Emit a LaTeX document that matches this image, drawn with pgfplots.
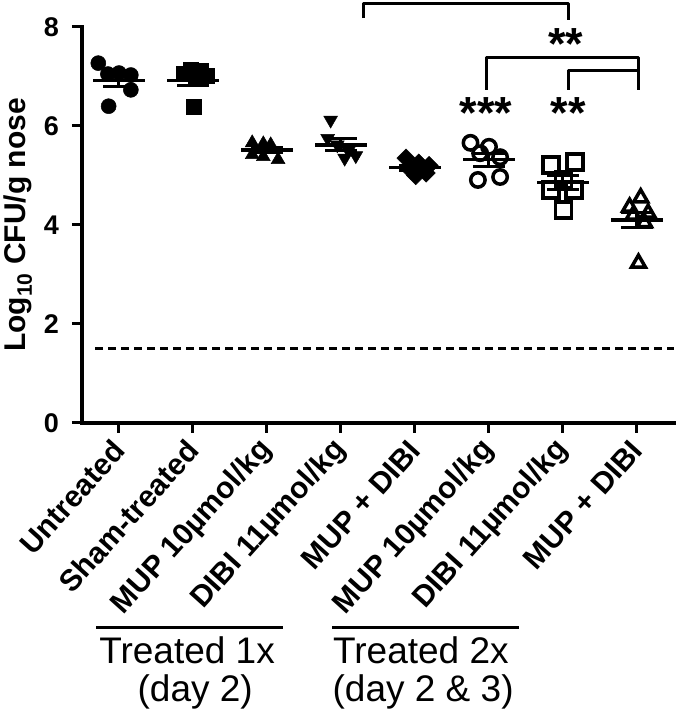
\documentclass[border=0pt]{standalone}
\usepackage{fontspec}
\setmainfont{Liberation Sans}
\usepackage{pgfplots}
\pgfplotsset{compat=1.18}

\newcommand{\starfont}{\fontsize{45}{45}\selectfont\bfseries}

\begin{document}
\begin{tikzpicture}
\path[use as bounding box] (0pt,0pt) rectangle (680pt,715pt);
\begin{axis}[
  at={(82pt,292pt)}, anchor=south west,
  scale only axis, width=592pt, height=396pt,
  xmin=0.5, xmax=8.5, ymin=0, ymax=8,
  clip=false,
  axis x line*=bottom, axis y line*=left,
  axis line style={line width=4pt, -, line cap=rect},
  tick align=outside, major tick length=10pt,
  tick style={line width=3pt, black},
  xtick={1,2,3,4,5,6,7,8},
  xticklabels={Untreated, Sham-treated, MUP 10µmol/kg, DIBI 11µmol/kg, MUP + DIBI,
    MUP 10µmol/kg, DIBI 11µmol/kg, MUP + DIBI},
  xticklabel style={rotate=48, anchor=east, inner sep=0pt,
    font=\fontsize{30}{30}\selectfont\bfseries},
  xticklabel shift=12pt,
  ytick={0,2,4,6,8},
  yticklabels={0,2,4,6,8},
  yticklabel style={anchor=east, inner sep=0pt,
    font=\fontsize{27}{27}\selectfont\bfseries},
  yticklabel shift=13pt,
  ylabel={Log\textsubscript{10} CFU/g nose},
  ylabel style={at={(axis description cs:-0.084,0.5)}, anchor=south, inner sep=0pt,
    font=\fontsize{30}{30}\selectfont\bfseries},
]
% detection limit
\addplot[line width=3pt, dash pattern=on 8pt off 5pt] coordinates {(0.68,1.5) (8.5,1.5)};

% treated 1x
\addplot[only marks, mark=*, mark size=7.5pt, mark options={line width=0.5pt, fill=black}]
  coordinates {(0.72,7.27) (0.85,7.05) (1.00,7.07) (1.16,7.03) (1.16,6.73) (0.86,6.40)};
\addplot[only marks, mark=square*, mark size=7.5pt, mark options={line width=0.5pt, fill=black}]
  coordinates {(1.88,7.05) (1.97,7.13) (2.11,7.11) (2.18,7.01) (2.04,6.95) (2.01,6.38)};
\addplot[only marks, mark=triangle*, mark size=8pt, mark options={line width=0.5pt, fill=black}]
  coordinates {(2.80,5.66) (2.95,5.64) (3.05,5.62) (2.80,5.42) (2.95,5.38) (3.15,5.32)};
\addplot[only marks, mark=triangle*, mark size=8pt, mark options={line width=0.5pt, fill=black, rotate=180}]
  coordinates {(3.86,6.12) (3.82,5.75) (3.95,5.62) (4.10,5.50) (4.20,5.40) (4.05,5.35)};
\addplot[only marks, mark=square*, mark size=6.5pt, mark options={line width=0.5pt, fill=black, rotate=45}]
  coordinates {(4.88,5.35) (5.05,5.25) (5.19,5.20) (4.95,5.10) (5.15,5.05) (5.01,5.00)};

% treated 2x
\addplot[only marks, mark=o, mark size=7.2pt, mark options={line width=3.5pt, fill=white}]
  coordinates {(5.75,5.66) (6.00,5.58) (5.88,5.45) (6.15,5.37) (5.85,4.91) (6.15,4.97)};
\addplot[only marks, mark=square, mark size=8pt, mark options={line width=3.5pt, fill=white}]
  coordinates {(6.84,5.21) (7.16,5.27) (7.01,4.91) (6.84,4.71) (7.15,4.71) (7.01,4.30)};
\addplot[only marks, mark=triangle, mark size=8pt, mark options={line width=3.5pt, fill=white}]
  coordinates {(7.90,4.36) (8.05,4.55) (8.15,4.24) (7.95,4.20) (8.10,4.05) (8.02,3.23)};

% mean and SEM
\pgfplotstableread{
x mean sem lo hi
1 6.92 0.12 6.80 7.04
2 6.92 0.11 6.81 7.03
3 5.52 0.05 5.47 5.57
4 5.62 0.12 5.50 5.74
5 5.16 0.05 5.11 5.21
6 5.32 0.13 5.19 5.45
7 4.86 0.14 4.72 5.00
8 4.10 0.16 3.94 4.26
}\stats
\addplot[only marks, mark=-, mark size=26pt, mark options={line width=3.5pt},
  error bars/.cd, y dir=both, y explicit, error mark=none,
  error bar style={line width=3pt}]
  table[x=x, y=mean, y error=sem] {\stats};
\addplot[only marks, mark=-, mark size=16pt, mark options={line width=3pt}]
  table[x=x, y=lo] {\stats};
\addplot[only marks, mark=-, mark size=16pt, mark options={line width=3pt}]
  table[x=x, y=hi] {\stats};

% significance brackets
\addplot[line width=3pt, line join=round] coordinates {(4.30,8.18) (4.30,8.48) (7.07,8.48) (7.07,8.14)};
\addplot[line width=3pt, line join=round] coordinates {(5.96,6.73) (5.96,7.39) (8.02,7.39) (8.02,6.73)};
\addplot[line width=3pt, line join=round] coordinates {(7.07,6.73) (7.07,7.13) (8.02,7.13)};
\node[anchor=base, inner sep=0pt] at (axis cs:7.04,7.35) {\starfont **};
\node[anchor=base, inner sep=0pt] at (axis cs:5.96,5.94) {\starfont ***};
\node[anchor=base, inner sep=0pt] at (axis cs:7.07,5.94) {\starfont **};

% treatment groups
\draw[line width=3pt] (axis cs:0.69,-4.14) -- (axis cs:3.22,-4.14);
\draw[line width=3pt] (axis cs:3.88,-4.14) -- (axis cs:6.41,-4.14);
\node[anchor=base, inner sep=0pt, font=\fontsize{37}{37}\selectfont] at (axis cs:1.92,-4.85) {Treated 1x};
\node[anchor=base, inner sep=0pt, font=\fontsize{37}{37}\selectfont] at (axis cs:2.03,-5.62) {(day 2)};
\node[anchor=base, inner sep=0pt, font=\fontsize{37}{37}\selectfont] at (axis cs:5.08,-4.85) {Treated 2x};
\node[anchor=base, inner sep=0pt, font=\fontsize{37}{37}\selectfont] at (axis cs:5.11,-5.62) {(day 2 \& 3)};
\end{axis}
\end{tikzpicture}
\end{document}
